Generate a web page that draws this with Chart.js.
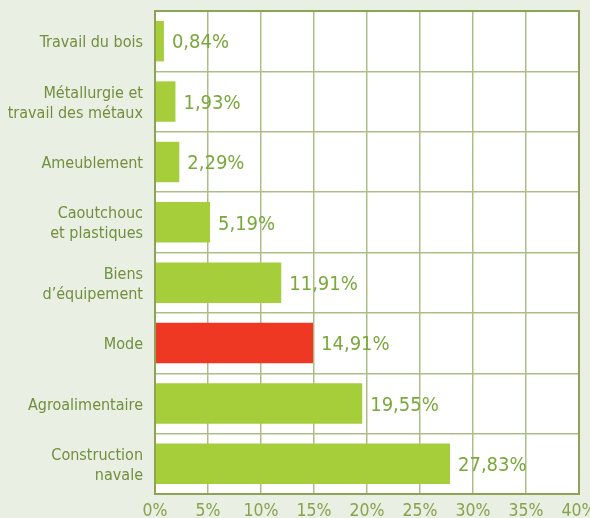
<!DOCTYPE html>
<html><head><meta charset="utf-8">
<script src="https://cdn.jsdelivr.net/npm/chart.js@4/dist/chart.umd.min.js"></script>
<style>html,body{margin:0;padding:0;background:#e9efe2;}#c{display:block;}</style>
</head><body>
<canvas id="c" width="590" height="518"></canvas>
<script>
const categories = [["Travail du bois"],["Métallurgie et","travail des métaux"],["Ameublement"],["Caoutchouc","et plastiques"],["Biens","d’équipement"],["Mode"],["Agroalimentaire"],["Construction","navale"]];
const values = [0.84, 1.93, 2.29, 5.19, 11.91, 14.91, 19.55, 27.83];
const valueLabels = ["0,84%","1,93%","2,29%","5,19%","11,91%","14,91%","19,55%","27,83%"];
const barColors = ["#a6cd3a","#a6cd3a","#a6cd3a","#a6cd3a","#a6cd3a","#ee3824","#a6cd3a","#a6cd3a"];
const xTicks = [0,5,10,15,20,25,30,35,40];

const FONT = "'DejaVu Sans Condensed','DejaVu Sans',sans-serif";

const valuePlugin = {
  id: 'vals',
  afterDatasetsDraw(chart) {
    const ctx = chart.ctx;
    const meta = chart.getDatasetMeta(0);
    ctx.save();
    ctx.fillStyle = '#79a83b';
    ctx.font = "20px " + FONT;
    ctx.textAlign = 'left';
    ctx.textBaseline = 'middle';
    meta.data.forEach((bar, i) => {
      ctx.fillText(valueLabels[i], bar.x + 8, bar.y + 2);
    });
    ctx.restore();
  }
};
const borderPlugin = {
  id: 'brd',
  beforeDraw(chart) {
    const a = chart.chartArea, ctx = chart.ctx;
    ctx.save();
    ctx.fillStyle = '#e9efe2';
    ctx.fillRect(0,0,chart.width,chart.height);
    ctx.fillStyle = '#ffffff';
    ctx.fillRect(a.left, a.top, a.right-a.left, a.bottom-a.top);
    ctx.restore();
  },
  afterDraw(chart) {
    const a = chart.chartArea, ctx = chart.ctx;
    ctx.save();
    ctx.strokeStyle = '#8ea455';
    ctx.lineWidth = 2;
    ctx.strokeRect(a.left, a.top, a.right-a.left, a.bottom-a.top);
    ctx.restore();
  }
};

new Chart(document.getElementById('c'), {
  type: 'bar',
  data: {
    labels: categories,
    datasets: [{ data: values, backgroundColor: barColors, borderWidth: 0, categoryPercentage: 0.67, barPercentage: 1.0 }]
  },
  options: {
    indexAxis: 'y',
    responsive: false,
    animation: false,
    layout: { padding: { top: 11, right: 11, left: 0, bottom: 0 } },
    plugins: { legend: { display: false }, tooltip: { enabled: false } },
    scales: {
      x: {
        min: 0, max: 40,
        afterBuildTicks(s) { s.ticks = xTicks.map(v => ({ value: v })); },
        afterFit(s) { s.height = 24; s.paddingLeft = 0; s.paddingRight = 0; },
        grid: { color: '#adbd88', lineWidth: 1.5, drawTicks: false },
        border: { display: false },
        ticks: { color: '#86a34d', font: { family: FONT, size: 17.5 }, padding: 7, maxRotation: 0, callback: v => v + '%' }
      },
      y: {
        afterFit(s) { s.width = 155; s.paddingTop = 0; s.paddingBottom = 0; },
        grid: { color: '#adbd88', lineWidth: 1.5, drawTicks: false, offset: true },
        border: { display: false },
        ticks: { color: '#718f3e', font: { family: FONT, size: 16, lineHeight: 1.25 }, padding: 12, labelOffset: 2 }
      }
    }
  },
  plugins: [borderPlugin, valuePlugin]
});
</script>
</body></html>
